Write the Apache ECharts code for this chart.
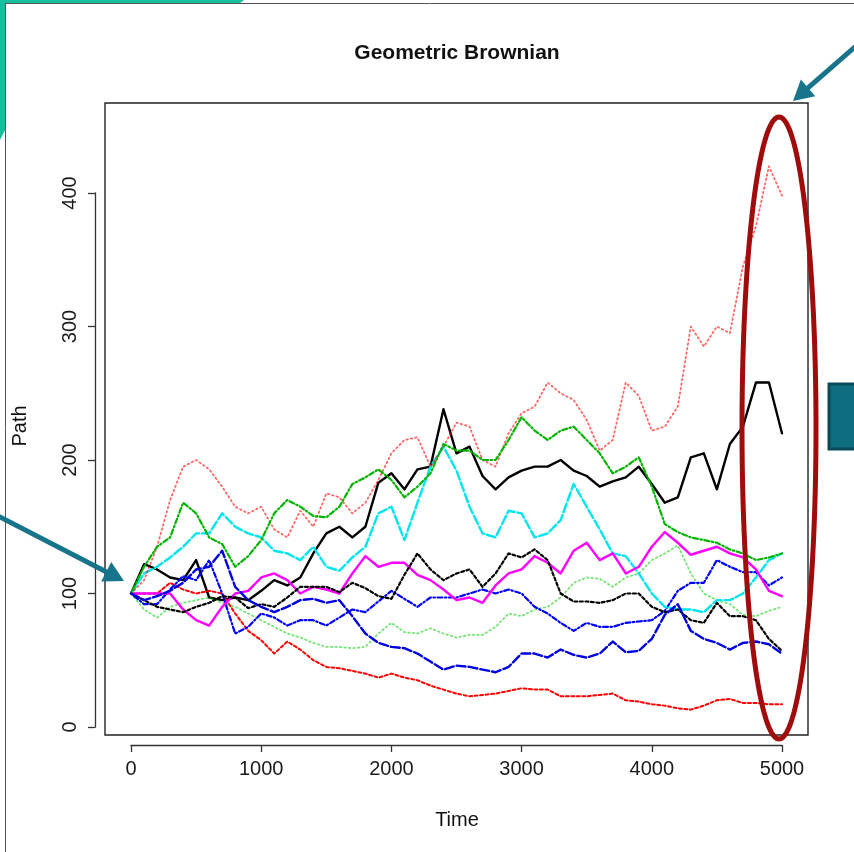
<!DOCTYPE html>
<html>
<head>
<meta charset="utf-8">
<script src="https://cdn.jsdelivr.net/npm/echarts@6/dist/echarts.min.js"></script>
<style>
  html, body { margin: 0; padding: 0; background: #fff; }
  #chart { width: 854px; height: 852px; }
</style>
</head>
<body>
<div id="chart"></div>
<script>
// Time steps at which each simulated path is sampled
const times = [0,100,200,300,400,500,600,700,800,900,1000,1100,1200,1300,1400,1500,1600,1700,1800,1900,
  2000,2100,2200,2300,2400,2500,2600,2700,2800,2900,3000,3100,3200,3300,3400,3500,3600,3700,3800,3900,
  4000,4100,4200,4300,4400,4500,4600,4700,4800,4900,5000];

// Ten geometric Brownian motion paths (matplot column order)
const path1 = [100,122,118,112,110,125,97,95,97,95, 102,110,106,112,130,145,150,142,150,183,
  190,178,193,195,238,205,210,188,178,187, 192,195,195,200,192,188,180,184,187,195,
  182,168,172,202,205,178,212,225,258,258, 220];
const path2 = [100,100,100,108,103,100,102,100,85,72, 65,55,64,58,50,45,44,42,40,37,
  40,37,35,31,28,25,23,24,25,27, 29,28,28,23,23,23,24,25,20,19,
  17,16,14,13,16,20,21,18,18,17, 17];
const path3 = [100,88,82,90,93,95,97,93,90,85, 80,75,70,67,63,60,60,59,60,70,
  78,71,70,74,70,67,69,69,75,85, 83,88,90,97,108,112,111,105,112,115,
  125,130,136,115,100,95,92,84,83,87, 90];
const path4 = [100,92,92,103,113,110,125,100,70,75, 85,82,76,80,80,76,82,88,86,94,
  102,96,90,97,97,97,100,103,100,103, 100,90,85,78,72,78,75,75,78,79,
  80,87,102,108,108,125,120,116,116,106, 112];
const path5 = [100,115,120,127,135,145,145,160,150,145, 142,132,130,125,135,120,117,127,135,160,
  165,140,168,195,210,192,165,145,142,162, 160,142,145,155,182,165,148,130,128,115,
  100,90,88,88,86,95,95,100,112,125, 130];
const path6 = [100,100,100,100,88,80,76,90,100,102, 112,115,110,100,105,103,100,115,128,120,
  123,123,114,110,103,95,97,93,106,115, 118,128,123,115,132,138,125,130,115,120,
  135,146,138,129,132,135,130,127,118,102, 98];
const path7 = [100,95,90,88,86,90,93,98,97,89, 92,90,97,105,105,105,101,108,104,98,
  96,114,130,118,110,115,118,105,115,130, 127,133,125,100,94,94,93,95,100,100,
  90,86,88,80,78,93,83,83,80,66, 57];
const path8 = [100,110,135,170,195,200,193,180,165,160, 165,148,142,162,150,175,172,160,168,185,
  205,215,217,195,210,228,225,200,195,220, 235,240,258,250,245,230,207,215,258,248,
  222,225,240,300,285,300,295,345,375,420, 398];
const path9 = [100,120,135,142,168,160,142,137,120,128, 140,160,170,165,158,157,165,182,187,193,
  185,172,180,190,212,207,207,200,200,215, 232,222,215,222,225,215,205,190,195,202,
  180,152,146,142,140,138,133,130,125,127, 130];
const path10 = [100,95,98,102,108,118,120,132,105,95, 90,86,90,95,96,93,95,83,70,63,
  60,59,55,49,43,46,45,43,41,45, 55,55,52,58,54,52,55,64,56,57,
  66,84,92,72,66,63,58,63,64,62, 55];

// Axis tick values
const xTicks = [0, 1000, 2000, 3000, 4000, 5000];
const yTicks = [0, 100, 200, 300, 400];

const titleText = 'Geometric Brownian';
const xLabel = 'Time';
const yLabel = 'Path';

// R palette 1:6 recycled over columns, line types 1:5 recycled
const styles = [
  { data: path1,  color: '#000000', type: 'solid',        width: 2.4 },
  { data: path2,  color: '#ff0000', type: [3, 2.5],       width: 2 },
  { data: path3,  color: 'rgba(0,205,0,0.55)', type: [1.5, 3], width: 1.8 },
  { data: path4,  color: '#0000ff', type: [1.5, 2.5, 5, 2.5], width: 2.2 },
  { data: path5,  color: '#00e5ee', type: [9, 3],         width: 2.4 },
  { data: path6,  color: '#ff00ff', type: 'solid',        width: 2.4 },
  { data: path7,  color: '#000000', type: [3, 2.5],       width: 2.2 },
  { data: path8,  color: 'rgba(255,0,0,0.6)', type: [1.5, 3], width: 1.8 },
  { data: path9,  color: '#00b400', type: [1.5, 2.5, 5, 2.5], width: 2.2 },
  { data: path10, color: '#0000e0', type: [9, 3],         width: 2.4 }
];

const series = styles.map((s, k) => ({
  name: 'V' + (k + 1),
  type: 'line',
  xAxisIndex: 0,
  yAxisIndex: 0,
  showSymbol: false,
  symbol: 'none',
  animation: false,
  silent: true,
  data: times.map((t, i) => [t, s.data[i]]),
  lineStyle: { color: s.color, width: s.width, type: s.type, cap: 'round', join: 'round' },
  z: 2 + k
}));

// annotation helpers
function arrow(x1, y1, x2, y2, color, w, headLen, headHalf) {
  const dx = x2 - x1, dy = y2 - y1, L = Math.hypot(dx, dy);
  const ux = dx / L, uy = dy / L, px = -uy, py = ux;
  const bx = x2 - ux * headLen, by = y2 - uy * headLen;
  return [
    { type: 'line', z: 200, shape: { x1: x1, y1: y1, x2: bx + ux * 2, y2: by + uy * 2 },
      style: { stroke: color, lineWidth: w } },
    { type: 'polygon', z: 200,
      shape: { points: [[x2, y2], [bx + px * headHalf, by + py * headHalf], [bx - px * headHalf, by - py * headHalf]] },
      style: { fill: color } }
  ];
}
function ellipsePoints(cx, cy, rx, ry, n) {
  const pts = [];
  for (let i = 0; i < n; i++) {
    const a = (i / n) * Math.PI * 2;
    pts.push([cx + rx * Math.cos(a), cy + ry * Math.sin(a)]);
  }
  return pts;
}

const teal = '#14bf9f';
const arrowTeal = '#17748b';

const graphics = [
  // slide frame and corner decoration
  { type: 'polygon', z: 150, shape: { points: [[0,0],[244,0],[240,3],[6,3],[6,128],[0,140]] }, style: { fill: teal } },
  { type: 'line', z: 150, shape: { x1: 5.5, y1: 3, x2: 5.5, y2: 852 }, style: { stroke: '#555', lineWidth: 1 } },
  { type: 'line', z: 150, shape: { x1: 5, y1: 3.5, x2: 854, y2: 3.5 }, style: { stroke: '#555', lineWidth: 1 } },
  // titles
  { type: 'text', z: 150, x: 457, y: 53,
    style: { text: titleText, font: 'bold 21px "Liberation Sans", Arial, sans-serif', fill: '#111', textAlign: 'center', textVerticalAlign: 'middle' } },
  { type: 'text', z: 150, x: 457, y: 820,
    style: { text: xLabel, font: '20px "Liberation Sans", Arial, sans-serif', fill: '#111', textAlign: 'center', textVerticalAlign: 'middle' } },
  { type: 'text', z: 150, x: 20, y: 426, rotation: Math.PI / 2,
    style: { text: yLabel, font: '20px "Liberation Sans", Arial, sans-serif', fill: '#111', textAlign: 'center', textVerticalAlign: 'middle' } },
  // highlight ellipse around the final values
  { type: 'polygon', z: 180, shape: { points: ellipsePoints(779, 428, 37, 311, 180) },
    style: { fill: 'none', stroke: '#9e0c0c', lineWidth: 5 } },
  // side box
  { type: 'rect', z: 180, shape: { x: 829, y: 384, width: 30, height: 65 },
    style: { fill: '#0f6d80', stroke: '#0a4b59', lineWidth: 3 } }
].concat(
  arrow(-2, 516, 124, 581, arrowTeal, 5, 20, 11),
  arrow(856, 46, 793, 101, arrowTeal, 5, 20, 11)
);

const labelFont = { fontSize: 20, color: '#1a1a1a', fontFamily: '"Liberation Sans", Arial, sans-serif' };
const axisLineStyle = { color: '#333', width: 1.3 };
const plain = v => String(v);

const option = {
  backgroundColor: '#ffffff',
  animation: false,
  grid: [
    { left: 105, top: 103, width: 703, height: 632, show: true, borderColor: '#222', borderWidth: 1.4, backgroundColor: 'transparent' },
    { left: 131, top: 103, width: 651, height: 642 },
    { left: 95, top: 193, width: 713, height: 534 }
  ],
  xAxis: [
    { gridIndex: 0, type: 'value', min: -200, max: 5200, show: false },
    { gridIndex: 1, type: 'value', min: xTicks[0], max: xTicks[xTicks.length - 1], interval: 1000,
      axisLine: { show: true, onZero: false, lineStyle: axisLineStyle },
      axisTick: { show: true, length: 7, lineStyle: axisLineStyle },
      axisLabel: Object.assign({ margin: 14, formatter: plain }, labelFont),
      splitLine: { show: false } },
    { gridIndex: 2, type: 'value', min: 0, max: 1, show: false }
  ],
  yAxis: [
    { gridIndex: 0, type: 'value', min: -6, max: 467.4, show: false },
    { gridIndex: 1, type: 'value', min: 0, max: 1, show: false },
    { gridIndex: 2, type: 'value', min: yTicks[0], max: yTicks[yTicks.length - 1], interval: 100,
      axisLine: { show: true, onZero: false, lineStyle: axisLineStyle },
      axisTick: { show: true, length: 7, lineStyle: axisLineStyle },
      axisLabel: Object.assign({ margin: 15, rotate: 90, formatter: plain }, labelFont),
      splitLine: { show: false } }
  ],
  series: series,
  graphic: graphics
};

const chart = echarts.init(document.getElementById('chart'), null, { renderer: 'canvas' });
chart.setOption(option);
</script>
</body>
</html>
